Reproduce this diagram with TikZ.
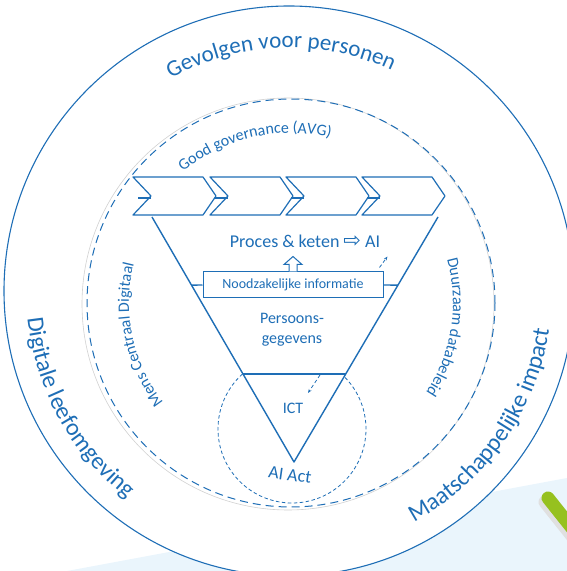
\documentclass[tikz,border=0pt]{standalone}
\usepackage{fontspec}
\setmainfont{Carlito}
\newfontfamily\symfont{DejaVu Sans}
\usetikzlibrary{calc,decorations.text,arrows.meta}
\definecolor{deepblue}{RGB}{30,110,182}
\definecolor{paleblue}{RGB}{234,245,252}
\definecolor{leafgreen}{RGB}{150,193,31}
\tikzset{
  ring/.style={draw=deepblue, line width=1.1pt},
  dashring/.style={draw=deepblue, line width=1pt, dash pattern=on 8pt off 5pt},
  thindash/.style={draw=deepblue, line width=0.8pt, dash pattern=on 3.5pt off 2.5pt},
  edge/.style={draw=deepblue, line width=1.4pt, line join=round},
  chev/.style={draw=deepblue, line width=1.2pt, line join=round, fill=white},
  lbl/.style={text=deepblue, inner sep=1pt}
}
\begin{document}
\begin{tikzpicture}[x=1pt, y=1pt]
\clip (0,0) rectangle (567,571);
% background band and green stroke
\fill[paleblue] (67,0) -- (567,93) -- (567,0) -- cycle;
\draw[black!12, line width=13pt, line cap=round] (545,69) -- (584,20);
\draw[leafgreen, line width=13pt, line cap=round] (548,73) -- (587,24);
% rings
\coordinate (O) at (289,280);
\coordinate (D) at (291,268);
\coordinate (S) at (292,142);
\draw[ring, fill=white] (O) circle[radius=285];
\draw[black!18, line width=0.6pt] (288,267) circle[radius=206];
\draw[dashring] (D) circle[radius=204];
% texts along the rings
\path[decorate, decoration={text along path, text align=center,
  text={|\fontsize{23}{23}\selectfont\color{deepblue}|Gevolgen voor personen}}]
  (O) ++(152:243) arc[start angle=152, end angle=32, radius=243];
\path[decorate, decoration={text along path, text align=center,
  text={|\fontsize{24}{24}\selectfont\color{deepblue}|Digitale leefomgeving}}]
  (O) ++(159:263) arc[start angle=159, end angle=259, radius=263];
\path[decorate, decoration={text along path, text align=center,
  text={|\fontsize{24}{24}\selectfont\color{deepblue}|Maatschappelijke impact}}]
  (O) ++(-90:263) arc[start angle=-90, end angle=20, radius=263];
\path[decorate, decoration={text along path, text align=center,
  text={|\fontsize{16}{16}\selectfont\color{deepblue}|Good governance (AVG)}}]
  (D) ++(153:170) arc[start angle=153, end angle=53, radius=170];
\path[decorate, decoration={text along path, text align=center,
  text={|\fontsize{16}{16}\selectfont\color{deepblue}|Mens Centraal Digitaal}}]
  (D) ++(242:162) arc[start angle=242, end angle=142, radius=162];
\path[decorate, decoration={text along path, text align=center,
  text={|\fontsize{16}{16}\selectfont\color{deepblue}|Duurzaam databeleid}}]
  (D) ++(41:162) arc[start angle=41, end angle=-59, radius=162];
% chevrons
\foreach \x in {133,210,286,362}{
  \draw[chev] (\x,394) -- ++(70,0) -- ++(13,-19) -- ++(-13,-19) -- ++(-70,0) -- ++(18,19) -- cycle;
  \draw[chev] (\x+18,373) -- ++(-13,0);
}
% triangle
\coordinate (A) at (294,109);
\coordinate (T1) at (152,354);
\coordinate (T2) at (438,354);
\draw[edge] (T1) -- (A) -- (T2);
\coordinate (L1) at ($(A)!0.359!(T1)$);
\coordinate (R1) at ($(A)!0.359!(T2)$);
\draw[edge] (L1) -- (R1);
\draw[thindash] (S) ++(132:74) arc[start angle=132, end angle=405, radius=74];
% inside the triangle
\node[lbl, font=\fontsize{14}{14}\selectfont, draw=deepblue, line width=1pt, fill=white,
  minimum width=180pt, minimum height=26pt] (need) at (293,286) {Noodzakelijke informatie};
\draw[edge] ($(A)!0.722!(T1)$) -- (need.west);
\draw[edge] (need.east) -- ($(A)!0.722!(T2)$);
\draw[deepblue, line width=1pt, fill=white] (need.north) ++(-4,0) -- ++(0,7) -- ++(-5,0)
  -- ++(9,8) -- ++(9,-8) -- ++(-5,0) -- ++(0,-7);
\node[lbl, font=\fontsize{18}{18}\selectfont] (flow) at (305,330)
  {Proces \& keten {\symfont\fontsize{21}{18}\selectfont ⇨} AI};
\draw[thindash, -{Stealth[length=4pt]}] ($(need.north east)+(-4,4)$) -- ($(need.north east)+(4,15)$);
\node[lbl, font=\fontsize{16}{20}\selectfont, align=center] (pers) at (292,241) {Persoons-\\gegevens};
\node[lbl, font=\fontsize{16}{16}\selectfont] (ict) at (293,163) {ICT};
\draw[thindash, -{Stealth[length=4pt]}] ($(ict)+(27,33)$) -- ($(ict)+(15,15)$);
\node[lbl, font=\fontsize{18}{18}\selectfont, rotate=-8] (act) at (290,96) {AI Act};
\end{tikzpicture}
\end{document}
